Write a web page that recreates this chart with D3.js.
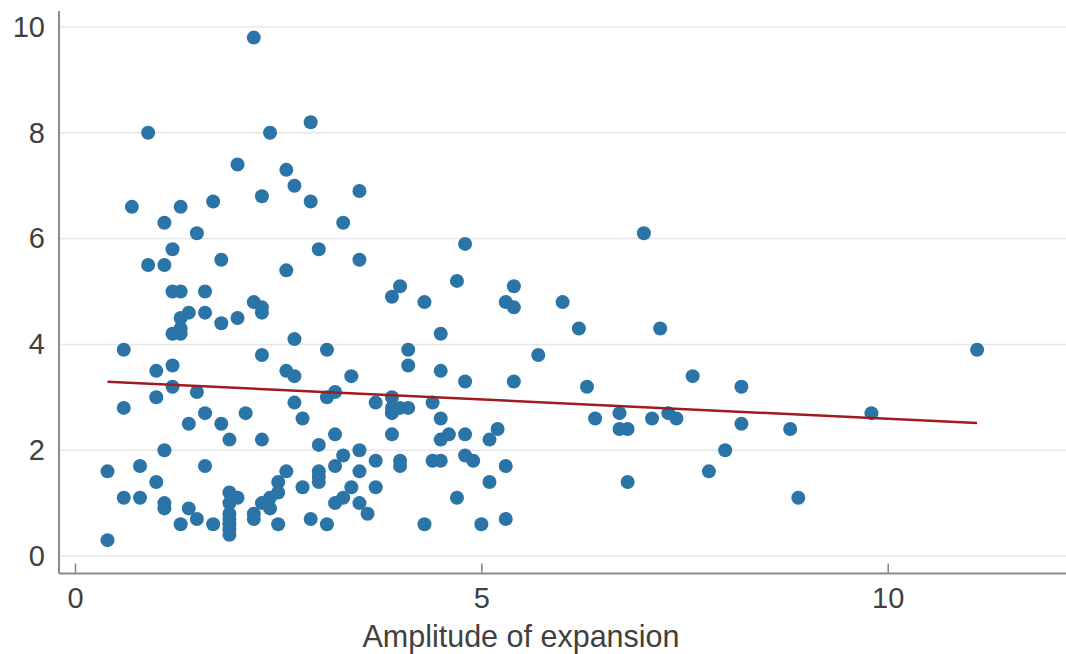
<!DOCTYPE html>
<html>
<head>
<meta charset="utf-8">
<script src="https://cdn.jsdelivr.net/npm/d3@7"></script>
<style>
  html, body { margin: 0; padding: 0; background: #ffffff; }
  svg { display: block; }
  text { font-family: "Liberation Sans", Arial, sans-serif; fill: #404040; }
</style>
</head>
<body>
<svg id="chart" width="1066" height="654"></svg>
<script>
// Data
const xValues = [
  2.2, 0.9, 2.4, 2.9, 2.0, 2.6, 2.7, 3.5, 0.7, 1.3,
  1.7, 2.3, 2.9, 1.1, 1.5, 3.3, 1.2, 3.0, 0.9, 1.1,
  1.8, 2.6, 3.5, 4.8, 7.0, 1.2, 1.3, 1.6, 2.2, 2.3,
  2.3, 1.4, 1.6, 1.3, 1.3, 1.3, 1.2, 1.8, 2.0, 0.6,
  2.3, 2.7, 3.1, 1.0, 1.2, 2.6, 2.7, 1.2, 1.5, 1.0,
  0.6, 2.7, 3.1, 3.2, 1.6, 2.1, 2.8, 1.4, 1.8, 1.9,
  2.3, 3.0, 1.1, 0.4, 0.8, 1.6, 1.0, 0.6, 0.8, 1.1,
  1.1, 1.4, 1.5, 1.3, 1.7, 1.9, 2.0, 1.9, 1.9, 1.9,
  1.9, 1.9, 1.9, 0.4, 2.2, 2.2, 2.3, 2.4, 2.4, 2.5,
  2.5, 2.6, 2.5, 2.9, 2.8, 3.0, 3.0, 3.0, 3.1, 3.2,
  3.3, 3.2, 3.3, 3.4, 3.5, 3.6, 3.5, 3.5, 3.2, 3.4,
  3.7, 3.9, 3.9, 3.9, 4.0, 4.1, 4.4, 4.5, 3.9, 4.5,
  4.6, 4.8, 5.1, 5.2, 3.7, 4.0, 4.0, 4.4, 4.5, 4.8,
  4.9, 5.3, 5.1, 3.7, 4.7, 4.3, 5.0, 5.3, 4.0, 3.9,
  4.3, 4.7, 5.4, 5.3, 5.4, 6.0, 4.5, 4.1, 4.1, 5.7,
  4.5, 4.8, 5.4, 6.2, 7.2, 6.3, 7.6, 6.4, 6.7, 6.7,
  6.8, 7.1, 7.3, 7.4, 6.8, 8.2, 8.2, 8.0, 7.8, 8.8,
  8.9, 9.8, 11.1
];
const yValues = [
  9.8, 8.0, 8.0, 8.2, 7.4, 7.3, 7.0, 6.9, 6.6, 6.6,
  6.7, 6.8, 6.7, 6.3, 6.1, 6.3, 5.8, 5.8, 5.5, 5.5,
  5.6, 5.4, 5.6, 5.9, 6.1, 5.0, 5.0, 5.0, 4.8, 4.7,
  4.6, 4.6, 4.6, 4.5, 4.3, 4.2, 4.2, 4.4, 4.5, 3.9,
  3.8, 4.1, 3.9, 3.5, 3.6, 3.5, 3.4, 3.2, 3.1, 3.0,
  2.8, 2.9, 3.0, 3.1, 2.7, 2.7, 2.6, 2.5, 2.5, 2.2,
  2.2, 2.1, 2.0, 1.6, 1.7, 1.7, 1.4, 1.1, 1.1, 1.0,
  0.9, 0.9, 0.7, 0.6, 0.6, 1.2, 1.1, 1.0, 0.8, 0.7,
  0.6, 0.5, 0.4, 0.3, 0.8, 0.7, 1.0, 1.1, 0.9, 1.4,
  1.2, 1.6, 0.6, 0.7, 1.3, 1.6, 1.5, 1.4, 0.6, 1.7,
  1.9, 1.0, 1.1, 1.3, 1.0, 0.8, 2.0, 1.6, 2.3, 3.4,
  2.9, 3.0, 2.8, 2.7, 2.8, 2.8, 2.9, 2.6, 2.3, 2.2,
  2.3, 2.3, 2.2, 2.4, 1.8, 1.8, 1.7, 1.8, 1.8, 1.9,
  1.8, 1.7, 1.4, 1.3, 1.1, 0.6, 0.6, 0.7, 5.1, 4.9,
  4.8, 5.2, 5.1, 4.8, 4.7, 4.8, 4.2, 3.9, 3.6, 3.8,
  3.5, 3.3, 3.3, 4.3, 4.3, 3.2, 3.4, 2.6, 2.7, 2.4,
  2.4, 2.6, 2.7, 2.6, 1.4, 3.2, 2.5, 2.0, 1.6, 2.4,
  1.1, 2.7, 3.9
];
const xTicks = [0, 5, 10];
const yTicks = [0, 2, 4, 6, 8, 10];
const xLabel = "Amplitude of expansion";

const points = xValues.map((v, i) => ({ x: v, y: yValues[i] }));

const svg = d3.select("#chart");
const W = 1066, H = 654;
const left = 59, bottom = 573.5;

const x = d3.scaleLinear().domain([0, 10]).range([75, 887.7]);
const y = d3.scaleLinear().domain([0, 10]).range([556, 27]);

// gridlines
svg.append("g").selectAll("line").data(yTicks).join("line")
  .attr("x1", left).attr("x2", W)
  .attr("y1", d => y(d)).attr("y2", d => y(d))
  .attr("stroke", "#e6e6e6").attr("stroke-width", 1.5);

// y axis
const yAxis = svg.append("g").attr("transform", `translate(${left},0)`)
  .call(d3.axisLeft(y).tickValues(yTicks).tickSize(0).tickPadding(14));
yAxis.select(".domain").remove();
yAxis.selectAll("text").style("font-size", "29px").attr("fill", "#444444");

// x axis
const xAxis = svg.append("g").attr("transform", `translate(0,${bottom})`)
  .call(d3.axisBottom(x).tickValues(xTicks).tickSizeInner(-10).tickSizeOuter(0).tickPadding(14));
xAxis.select(".domain").remove();
xAxis.selectAll(".tick line").attr("stroke", "#808080").attr("stroke-width", 1.5);
xAxis.selectAll("text").style("font-size", "29px").attr("fill", "#444444").attr("dy", "0.71em");

// spines
svg.append("line").attr("x1", left).attr("x2", left).attr("y1", 11).attr("y2", bottom)
  .attr("stroke", "#8c8c8c").attr("stroke-width", 2);
svg.append("line").attr("x1", left).attr("x2", W).attr("y1", bottom).attr("y2", bottom)
  .attr("stroke", "#8c8c8c").attr("stroke-width", 2);

// points
svg.append("g").selectAll("circle").data(points).join("circle")
  .attr("cx", d => x(d.x)).attr("cy", d => y(d.y)).attr("r", 7)
  .attr("fill", "#2b74a8");

// regression line (least squares fit of the points)
const mx = d3.mean(points, d => d.x), my = d3.mean(points, d => d.y);
const slope = d3.sum(points, d => (d.x - mx) * (d.y - my)) / d3.sum(points, d => (d.x - mx) ** 2);
const icpt = my - slope * mx;
const [x0, x1] = d3.extent(points, d => d.x);
svg.append("line")
  .attr("x1", x(x0)).attr("y1", y(icpt + slope * x0))
  .attr("x2", x(x1)).attr("y2", y(icpt + slope * x1))
  .attr("stroke", "#9e1b1f").attr("stroke-width", 2.5);

// x label
svg.append("text").attr("x", 521).attr("y", 647).attr("text-anchor", "middle")
  .attr("fill", "#444444")
  .style("font-size", "30.5px").text(xLabel);
</script>
</body>
</html>
